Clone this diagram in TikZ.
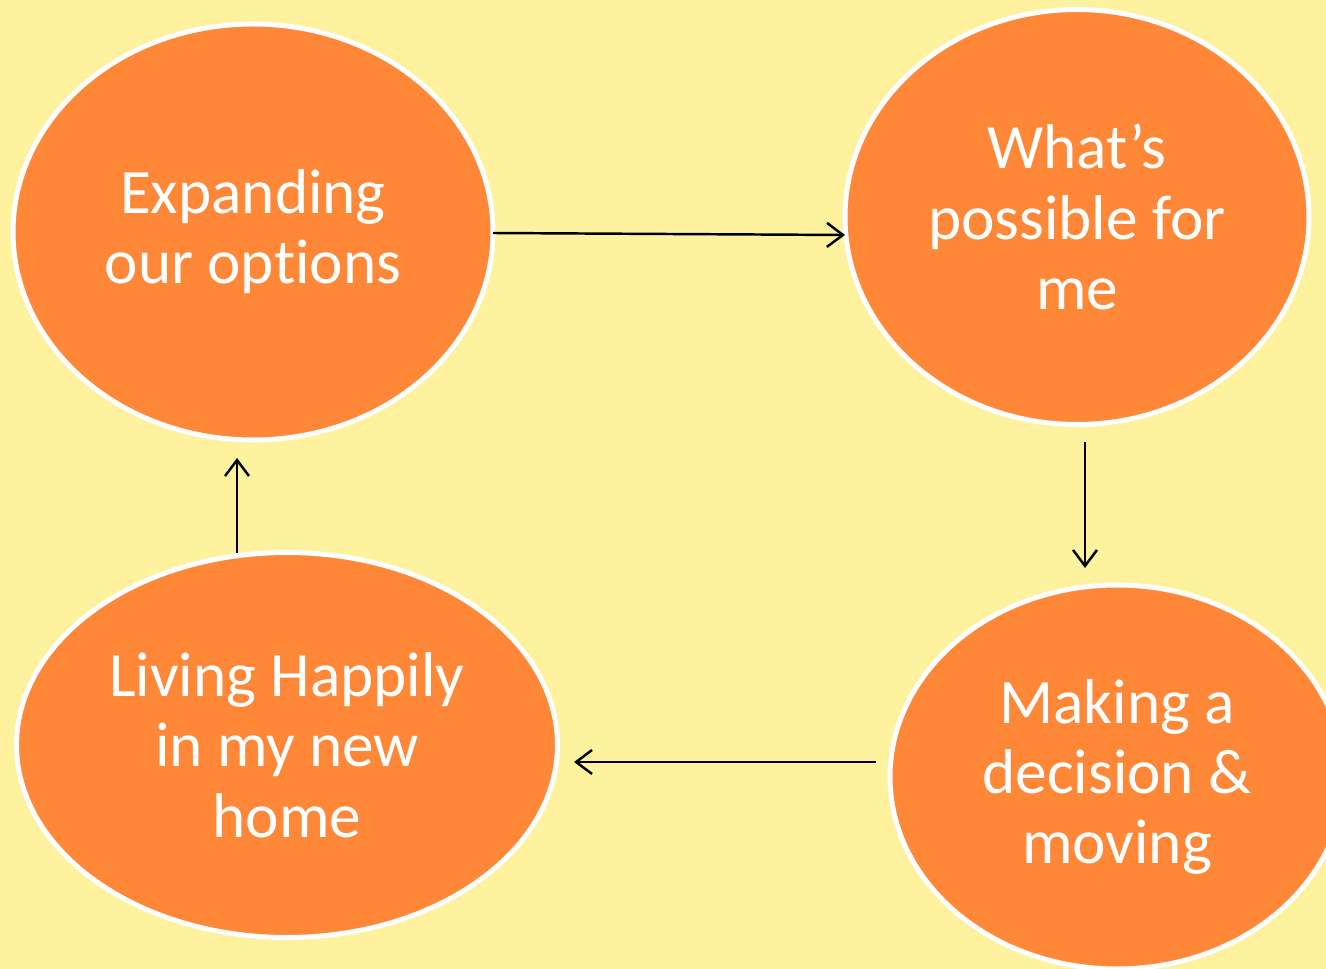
\documentclass[tikz,border=0pt]{standalone}
\usepackage{fontspec}
\setmainfont{Carlito}[Ligatures={NoCommon,NoContextual}]
\usetikzlibrary{shapes.geometric,arrows.meta}
\definecolor{bg}{HTML}{FFF29E}
\definecolor{orng}{HTML}{FF8838}
\tikzset{
  blob/.style={ellipse, fill=orng, draw=white, line width=2.8pt, inner sep=0pt,
    text=white, align=center, font=\fontsize{36}{40}\selectfont},
  conn/.style={line width=1.4pt, -{Straight Barb[length=3.2mm,width=4.8mm,line width=1.4pt]}}
}
\begin{document}
\begin{tikzpicture}[x=0.02cm,y=-0.02cm]
\fill[bg] (0,0) rectangle (1326,969);
\useasboundingbox (0,0) rectangle (1326,969);
\begin{scope}
\clip (0,0) rectangle (1326,969);
\node[blob, minimum width=9.6cm, minimum height=8.32cm] (a) at (253,232) {\addfontfeature{Ligatures=NoCommon}Expanding\\our op\kern0ptt\kern0ptions};
\node[blob, minimum width=9.28cm, minimum height=8.3cm] (b) at (1077,217) {What’s\\possible for\\me};
\node[blob, minimum width=9.08cm, minimum height=7.68cm] (c) at (1117,777) {Making a\\decision \&\\moving};
\node[blob, minimum width=10.82cm, minimum height=7.7cm] (d) at (287,745) {Living Happily\\in my new\\home};
\end{scope}
\coordinate (a1) at (493,233);
\coordinate (b1) at (845,235);
\coordinate (b2) at (1085,442);
\coordinate (c1) at (1085,568);
\coordinate (c2) at (876,762);
\coordinate (d1) at (574,762);
\coordinate (d2) at (237,553);
\coordinate (a2) at (237,458);
\draw[conn] (a1) -- (b1);
\draw[conn] (b2) -- (c1);
\draw[conn] (c2) -- (d1);
\draw[conn] (d2) -- (a2);
\end{tikzpicture}
\end{document}
